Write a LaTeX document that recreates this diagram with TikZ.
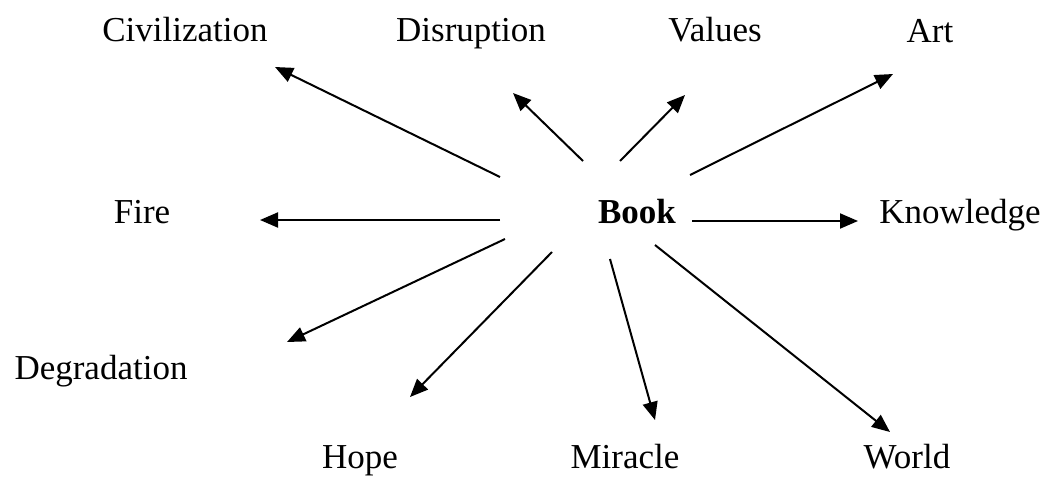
\documentclass[tikz,border=0pt]{standalone}
\usepackage{fontspec}
\setmainfont{Liberation Serif}
\usetikzlibrary{arrows.meta}

\begin{document}
\begin{tikzpicture}[x=0.5pt, y=-0.5pt, font=\fontsize{17.5}{21}\selectfont,
    word/.style={anchor=base, inner sep=0pt},
    link/.style={-{Triangle[length=9pt, width=7.5pt]}, line width=1pt}]
    \useasboundingbox (0,0) rectangle (1048,477);
    % Centre word
    \node [word, font=\fontsize{17.5}{21}\selectfont\bfseries] (book) at (637,223) {Book};
    % Top row
    \node [word] (civ) at (185,41) {Civilization};
    \node [word] (dis) at (471,41) {Disruption};
    \node [word] (val) at (715,41) {Values};
    \node [word] (art) at (930,42) {Art};
    % Middle row
    \node [word] (fire) at (142,223) {Fire};
    \node [word] (know) at (960,223) {Knowledge};
    \node [word] (deg) at (101,379) {Degradation};
    % Bottom row
    \node [word] (hope) at (360,468) {Hope};
    \node [word] (mir) at (625,468) {Miracle};
    \node [word] (world) at (907,468) {World};
    % Arrow ends
    \coordinate (civ-s) at (500,177);   \coordinate (civ-e) at (275,67);
    \coordinate (dis-s) at (583,161);   \coordinate (dis-e) at (513,93);
    \coordinate (val-s) at (620,161);   \coordinate (val-e) at (685,95);
    \coordinate (art-s) at (690,175);   \coordinate (art-e) at (893,74);
    \coordinate (fire-s) at (500,220);  \coordinate (fire-e) at (260,220);
    \coordinate (know-s) at (692,221);  \coordinate (know-e) at (858,221);
    \coordinate (deg-s) at (505,239);   \coordinate (deg-e) at (287,342);
    \coordinate (hope-s) at (552,252);  \coordinate (hope-e) at (410,397);
    \coordinate (mir-s) at (610,259);   \coordinate (mir-e) at (655,420);
    \coordinate (world-s) at (655,245); \coordinate (world-e) at (890,432);
    % Arrows
    \foreach \w in {civ, dis, val, art, fire, know, deg, hope, mir, world}
        \draw [link] (\w-s) -- (\w-e);
\end{tikzpicture}
\end{document}
